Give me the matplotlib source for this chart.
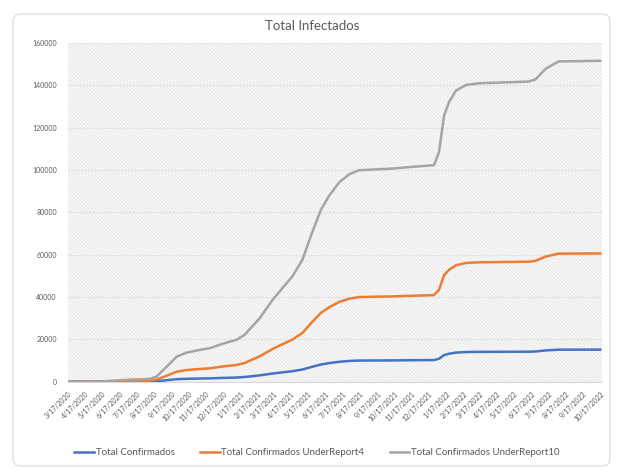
import matplotlib
matplotlib.use('Agg')
import matplotlib.pyplot as plt
from matplotlib.patches import FancyBboxPatch
import pandas as pd

# values
dates = ['2020-03-17', '2020-05-13', '2020-06-22', '2020-08-09', '2020-08-21',
         '2020-09-08', '2020-09-26', '2020-10-13', '2020-11-05', '2020-11-23',
         '2020-12-16', '2021-01-10', '2021-01-24', '2021-02-20', '2021-03-15',
         '2021-04-19', '2021-05-07', '2021-05-24', '2021-06-09', '2021-06-23',
         '2021-07-11', '2021-07-29', '2021-08-15', '2021-10-13', '2021-11-17',
         '2021-12-26', '2022-01-04', '2022-01-13', '2022-01-22', '2022-02-03',
         '2022-02-21', '2022-03-16', '2022-06-12', '2022-06-24', '2022-07-12',
         '2022-08-04', '2022-10-17']

confirmados = [0, 10, 80, 130, 240, 710, 1190, 1370, 1500, 1580,
               1790, 1980, 2210, 3000, 3870, 4980, 5770, 7050, 8140, 8780,
               9420, 9800, 9990, 10070, 10150, 10230, 10840, 12570, 13220, 13750,
               14020, 14100, 14180, 14280, 14780, 15130, 15160]

under4 = [0, 40, 320, 520, 960, 2840, 4760, 5500, 6000, 6300,
          7200, 7900, 8800, 12000, 15500, 19900, 23100, 28200, 32600, 35100,
          37700, 39200, 40000, 40300, 40600, 40900, 43400, 50300, 52900, 55000,
          56100, 56400, 56700, 57100, 59100, 60500, 60600]

under10 = [0, 100, 800, 1300, 2400, 7100, 11900, 13700, 15000, 15800,
           17900, 19800, 22100, 30000, 38700, 49800, 57700, 70500, 81400, 87800,
           94200, 98000, 99900, 100700, 101500, 102300, 108400, 125700, 132200, 137500,
           140200, 141000, 141800, 142800, 147800, 151300, 151600]

tick_labels = ['3/17/2020', '4/17/2020', '5/17/2020', '6/17/2020', '7/17/2020',
               '8/17/2020', '9/17/2020', '10/17/2020', '11/17/2020', '12/17/2020',
               '1/17/2021', '2/17/2021', '3/17/2021', '4/17/2021', '5/17/2021',
               '6/17/2021', '7/17/2021', '8/17/2021', '9/17/2021', '10/17/2021',
               '11/17/2021', '12/17/2021', '1/17/2022', '2/17/2022', '3/17/2022',
               '4/17/2022', '5/17/2022', '6/17/2022', '7/17/2022', '8/17/2022',
               '9/17/2022', '10/17/2022']

yticks = [0, 20000, 40000, 60000, 80000, 100000, 120000, 140000, 160000]

plt.rcParams['font.family'] = ['Lato', 'DejaVu Sans']
plt.rcParams['hatch.linewidth'] = 0.5

x = pd.to_datetime(dates)
tick_pos = pd.to_datetime(tick_labels, format='%m/%d/%Y')

fig = plt.figure(figsize=(6.18, 4.73), dpi=100)
fig.patch.set_facecolor('white')

# rounded chart frame
frame = FancyBboxPatch((0.13, 0.07), 5.97, 4.52, boxstyle='round,pad=0,rounding_size=0.08',
                       transform=fig.dpi_scale_trans, facecolor='none',
                       edgecolor='#d9d9d9', linewidth=0.8, zorder=-10)
fig.patches.append(frame)

ax = fig.add_axes([0.110, 0.193, 0.864, 0.716])
ax.set_facecolor('white')
# diagonal pattern fill of the plot area
ax.add_patch(plt.Rectangle((0, 0), 1, 1, transform=ax.transAxes, facecolor='#fbfbfb',
                           edgecolor='#dcdcdc', linewidth=0, hatch='\\' * 10, zorder=0))

ax.plot(x, confirmados, color='#4472c4', lw=1.8, label='Total Confirmados', zorder=3)
ax.plot(x, under4, color='#ed7d31', lw=1.8, label='Total Confirmados UnderReport4', zorder=3)
ax.plot(x, under10, color='#a5a5a5', lw=1.8, label='Total Confirmados UnderReport10', zorder=3)

ax.set_ylim(0, 160000)
ax.set_yticks(yticks)
ax.set_yticklabels([str(v) for v in yticks])
ax.set_xlim(tick_pos[0], tick_pos[-1] + pd.Timedelta(days=3))
ax.set_xticks(tick_pos)
ax.set_xticklabels(tick_labels, rotation=45, ha='right', rotation_mode='anchor')

ax.grid(axis='y', color='#e6e6e6', lw=0.9, zorder=1)
ax.set_axisbelow(True)
for s in ['top', 'right', 'left']:
    ax.spines[s].set_visible(False)
ax.spines['bottom'].set_color('#d9d9d9')
ax.spines['bottom'].set_linewidth(0.8)
ax.tick_params(axis='both', length=0, labelsize=5, colors='#595959')
ax.tick_params(axis='y', pad=8)
ax.tick_params(axis='x', pad=6)

fig.text(0.505, 0.945, 'Total Infectados', ha='center', va='center', fontsize=9.5, color='#595959')

fig.legend(loc='center', bbox_to_anchor=(0.513, 0.043), ncol=3, frameon=False,
           fontsize=7, labelcolor='#595959', handlelength=2.0, handletextpad=0.2,
           columnspacing=2.6)

fig.savefig('out.png', dpi=100)
